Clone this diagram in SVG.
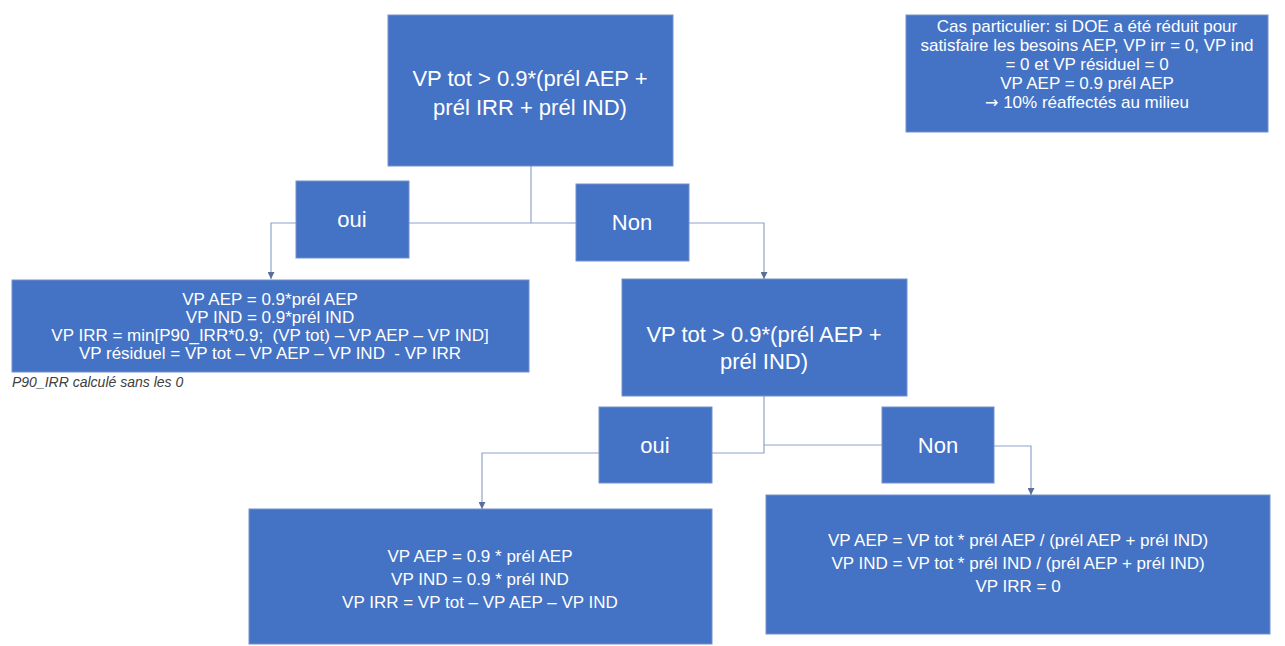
<svg xmlns="http://www.w3.org/2000/svg" width="1285" height="646" viewBox="0 0 1285 646">
<defs>
<style>
.box{fill:#4472C4;stroke:#7391cc;stroke-width:1}
.t{font-family:"Liberation Sans",Arial,sans-serif;fill:#ffffff;text-anchor:middle}
.big{font-size:22px}
.sm{font-size:17px}
.pre{white-space:pre}
.con{fill:none;stroke:#8fa3cc;stroke-width:1.2}
.note{font-family:"Liberation Sans",Arial,sans-serif;font-size:14px;font-style:italic;fill:#404040}
</style>
<marker id="arr" viewBox="0 0 10 10" refX="10" refY="5" markerWidth="7" markerHeight="7" markerUnits="userSpaceOnUse" orient="auto">
<path d="M0,0 L10,5 L0,10 z" fill="#5b6f99"/>
</marker>
</defs>
<rect width="1285" height="646" fill="#ffffff"/>

<g id="connectors">
<path class="con" d="M531,166 V223"/>
<path class="con" d="M409,223 H576"/>
<path class="con" d="M296,223 H271 V279" marker-end="url(#arr)"/>
<path class="con" d="M689,223 H764 V279" marker-end="url(#arr)"/>
<path class="con" d="M764,396 V453 H712"/>
<path class="con" d="M764,445 H882"/>
<path class="con" d="M599,453 H482 V509" marker-end="url(#arr)"/>
<path class="con" d="M994,446 H1031 V495" marker-end="url(#arr)"/>
</g>

<g id="decision1">
<rect class="box" x="388" y="15" width="285" height="151"/>
<text class="t big" x="530" y="86">VP tot &gt; 0.9*(prél AEP +</text>
<text class="t big" x="530" y="115">prél IRR + prél IND)</text>
</g>

<g id="special-case">
<rect class="box" x="906" y="15" width="362" height="117"/>
<text class="t sm" x="1087" y="32">Cas particulier: si DOE a été réduit pour</text>
<text class="t sm" x="1087" y="51">satisfaire les besoins AEP, VP irr = 0, VP ind</text>
<text class="t sm" x="1087" y="70">= 0 et VP résiduel = 0</text>
<text class="t sm" x="1087" y="89">VP AEP = 0.9 prél AEP</text>
<text class="t sm" x="1087" y="108"><tspan font-family="'DejaVu Sans',sans-serif" font-size="16px">→</tspan> 10% réaffectés au milieu</text>
</g>

<g id="oui1">
<rect class="box" x="296" y="181" width="113" height="77"/>
<text class="t big" x="352" y="227">oui</text>
</g>

<g id="non1">
<rect class="box" x="576" y="184" width="113" height="77"/>
<text class="t big" x="632" y="230">Non</text>
</g>

<g id="result1">
<rect class="box" x="12" y="280" width="517" height="92"/>
<text class="t sm" x="270" y="305">VP AEP = 0.9*prél AEP</text>
<text class="t sm" x="270" y="323">VP IND = 0.9*prél IND</text>
<text class="t sm pre" x="270" y="341">VP IRR = min[P90_IRR*0.9;  (VP tot) – VP AEP – VP IND]</text>
<text class="t sm pre" x="270" y="359">VP résiduel = VP tot – VP AEP – VP IND  - VP IRR</text>
</g>

<g id="note">
<text class="note" x="12" y="387">P90_IRR calculé sans les 0</text>
</g>

<g id="decision2">
<rect class="box" x="622" y="279" width="285" height="117"/>
<text class="t big" x="764" y="342">VP tot &gt; 0.9*(prél AEP +</text>
<text class="t big" x="764" y="369">prél IND)</text>
</g>

<g id="oui2">
<rect class="box" x="599" y="407" width="113" height="76"/>
<text class="t big" x="655" y="453">oui</text>
</g>

<g id="non2">
<rect class="box" x="882" y="407" width="112" height="76"/>
<text class="t big" x="938" y="453">Non</text>
</g>

<g id="result2">
<rect class="box" x="249" y="509" width="463" height="135"/>
<text class="t sm" x="480" y="562">VP AEP = 0.9 * prél AEP</text>
<text class="t sm" x="480" y="585">VP IND = 0.9 * prél IND</text>
<text class="t sm" x="480" y="608">VP IRR = VP tot – VP AEP – VP IND</text>
</g>

<g id="result3">
<rect class="box" x="766" y="495" width="504" height="139"/>
<text class="t sm" x="1018" y="546">VP AEP = VP tot * prél AEP / (prél AEP + prél IND)</text>
<text class="t sm" x="1018" y="569">VP IND = VP tot * prél IND / (prél AEP + prél IND)</text>
<text class="t sm" x="1018" y="592">VP IRR = 0</text>
</g>
</svg>
